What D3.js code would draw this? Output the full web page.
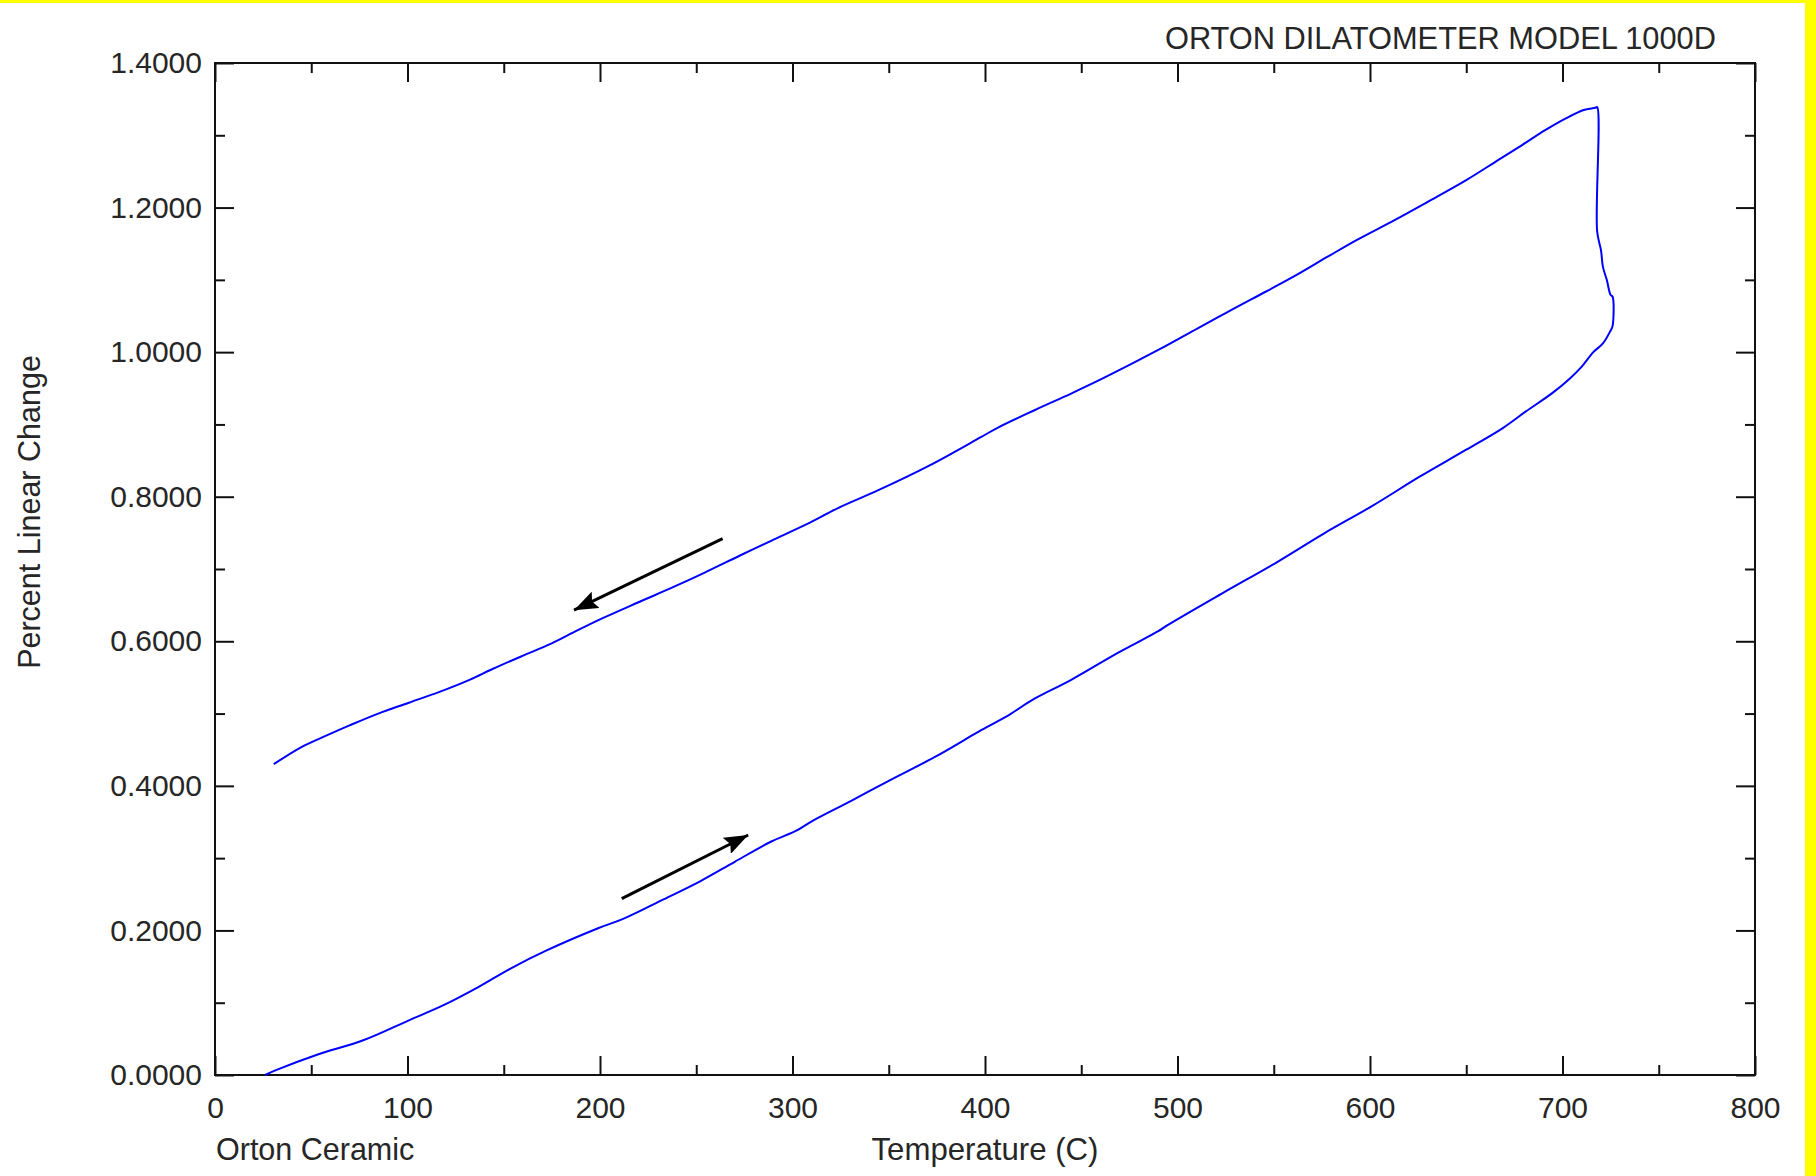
<!doctype html>
<html>
<head>
    <meta charset="utf8">
    <style>
        body { margin: 0; background: #fff; }
        svg { display: block; }
        text { font-family: "Liberation Sans", Arial, sans-serif; fill: #262626; }
        .axis path { display: none; }
        .axis line { stroke: #111; stroke-width: 2; }
        .axis text { font-size: 30px; fill: #262626; font-family: "Liberation Sans", Arial, sans-serif; }
    </style>
    <script src="https://d3js.org/d3.v7.min.js"></script>
</head>
<body>
<svg width="1816" height="1176"></svg>
<script>

    // heating run (incl. the turn at the top temperature)
    var tempUp = [26, 32, 53, 77, 101, 119, 137, 154, 172, 199, 212, 233, 252, 270, 289, 302, 310, 331, 350, 374,
                  398, 413, 424, 445, 469, 490, 494, 523, 552, 576, 601, 626, 650, 669, 681, 695, 704, 710, 716, 721,
                  725, 726, 726, 725, 723, 721, 720, 718, 718];
    var pctUp = [0, 0.007, 0.028, 0.048, 0.076, 0.097, 0.122, 0.148, 0.172, 0.203, 0.216, 0.243, 0.268, 0.295, 0.323, 0.338, 0.351, 0.380, 0.407, 0.440,
                 0.477, 0.499, 0.518, 0.547, 0.584, 0.614, 0.621, 0.666, 0.710, 0.749, 0.787, 0.828, 0.865, 0.895, 0.918, 0.944, 0.964, 0.980, 1.000, 1.012,
                 1.030, 1.036, 1.077, 1.079, 1.100, 1.118, 1.141, 1.167, 1.339];

    // cooling run
    var tempDown = [717, 711, 701.5, 691, 679, 665, 650, 630, 613, 593, 578, 560, 539, 525, 510.5, 490, 463, 445, 426, 407,
                    397.6, 371, 344.6, 323.4, 307.4, 288.9, 273, 254.4, 238.5, 220, 201.4, 188.2, 174.9, 159, 144.4, 132.5, 116.6, 100.7, 84.8, 70.2,
                    55.7, 45.1, 30.5];
    var pctDown = [1.338, 1.335, 1.323, 1.307, 1.2865, 1.263, 1.238, 1.208, 1.183, 1.155, 1.132, 1.104, 1.074, 1.054, 1.033, 1.003, 0.966, 0.943, 0.920, 0.896,
                   0.882, 0.843, 0.809, 0.784, 0.762, 0.739, 0.719, 0.695, 0.6755, 0.654, 0.632, 0.615, 0.597, 0.579, 0.562, 0.547, 0.530, 0.515, 0.500, 0.484,
                   0.467, 0.454, 0.430];

    var xTicks = [0, 100, 200, 300, 400, 500, 600, 700, 800];
    var xMinor = [50, 150, 250, 350, 450, 550, 650, 750];
    var yTicks = [0, 0.2, 0.4, 0.6, 0.8, 1.0, 1.2, 1.4];
    var yMinor = [0.1, 0.3, 0.5, 0.7, 0.9, 1.1, 1.3];

    // direction arrows [x1, y1, x2, y2] in data units
    var arrowCool = [263.7, 0.742, 186.5, 0.643];
    var arrowHeat = [211.3, 0.244, 277.0, 0.332];

    var svg = d3.select("svg"),
        pLeft = 215, pRight = 1755, pTop = 63, pBottom = 1075;

    var x = d3.scaleLinear().domain([0, 800]).range([pLeft, pRight]),
        y = d3.scaleLinear().domain([0, 1.4]).range([pBottom, pTop]);

    svg.append("rect").attr("width", 1816).attr("height", 1176).attr("fill", "#fff");
    // yellow page edge
    svg.append("rect").attr("x", 0).attr("y", 0).attr("width", 1816).attr("height", 3).attr("fill", "#ffff00");
    svg.append("rect").attr("x", 1805).attr("y", 0).attr("width", 11).attr("height", 1176).attr("fill", "#ffff00");

    // bottom axis with labels, ticks pointing in
    svg.append("g")
       .attr("class", "axis")
       .attr("transform", "translate(0," + pBottom + ")")
       .call(d3.axisBottom(x).tickValues(xTicks).tickSize(-19).tickSizeOuter(0).tickPadding(22)
               .tickFormat(d3.format("d")));
    svg.append("g")
       .attr("class", "axis")
       .attr("transform", "translate(0," + pBottom + ")")
       .call(d3.axisBottom(x).tickValues(xMinor).tickSize(-10).tickSizeOuter(0).tickFormat(""));

    svg.append("g")
       .attr("class", "axis")
       .attr("transform", "translate(0," + pTop + ")")
       .call(d3.axisTop(x).tickValues(xTicks).tickSize(-19).tickSizeOuter(0).tickFormat(""));
    svg.append("g")
       .attr("class", "axis")
       .attr("transform", "translate(0," + pTop + ")")
       .call(d3.axisTop(x).tickValues(xMinor).tickSize(-10).tickSizeOuter(0).tickFormat(""));

    svg.append("g")
       .attr("class", "axis")
       .attr("transform", "translate(" + pLeft + ",0)")
       .call(d3.axisLeft(y).tickValues(yTicks).tickSize(-19).tickSizeOuter(0).tickPadding(13)
               .tickFormat(d3.format(".4f")));
    svg.append("g")
       .attr("class", "axis")
       .attr("transform", "translate(" + pLeft + ",0)")
       .call(d3.axisLeft(y).tickValues(yMinor).tickSize(-10).tickSizeOuter(0).tickFormat(""));

    svg.append("g")
       .attr("class", "axis")
       .attr("transform", "translate(" + pRight + ",0)")
       .call(d3.axisRight(y).tickValues(yTicks).tickSize(-19).tickSizeOuter(0).tickFormat(""));
    svg.append("g")
       .attr("class", "axis")
       .attr("transform", "translate(" + pRight + ",0)")
       .call(d3.axisRight(y).tickValues(yMinor).tickSize(-10).tickSizeOuter(0).tickFormat(""));

    // frame
    svg.append("rect")
       .attr("x", pLeft).attr("y", pTop)
       .attr("width", pRight - pLeft).attr("height", pBottom - pTop)
       .attr("fill", "none").attr("stroke", "#111").attr("stroke-width", 2);

    // curve
    var pts = tempUp.map(function(t, i) { return [t, pctUp[i]]; })
        .concat(tempDown.map(function(t, i) { return [t, pctDown[i]]; }));

    var line = d3.line()
        .x(function(d) { return x(d[0]); })
        .y(function(d) { return y(d[1]); })
        .curve(d3.curveCatmullRom.alpha(0.5));

    svg.append("path")
       .datum(pts)
       .attr("d", line)
       .attr("fill", "none")
       .attr("stroke", "#0000ff")
       .attr("stroke-width", 2)
       .attr("stroke-linejoin", "round");

    // arrows
    svg.append("defs").append("marker")
       .attr("id", "head")
       .attr("viewBox", "0 0 24 18")
       .attr("refX", 24).attr("refY", 9)
       .attr("markerWidth", 24).attr("markerHeight", 18)
       .attr("markerUnits", "userSpaceOnUse")
       .attr("orient", "auto")
       .append("path")
       .attr("d", "M0,0 L24,9 L0,18 L4,9 Z")
       .attr("fill", "#000");

    [arrowCool, arrowHeat].forEach(function(a) {
        svg.append("line")
           .attr("x1", x(a[0])).attr("y1", y(a[1]))
           .attr("x2", x(a[2])).attr("y2", y(a[3]))
           .attr("stroke", "#000")
           .attr("stroke-width", 3)
           .attr("marker-end", "url(#head)");
    });

    // texts
    svg.append("text")
       .attr("x", 1716).attr("y", 49)
       .attr("text-anchor", "end")
       .attr("font-size", "30.8px")
       .text("ORTON DILATOMETER MODEL 1000D");

    svg.append("text")
       .attr("x", 216).attr("y", 1160)
       .attr("font-size", "30.5px")
       .text("Orton Ceramic");

    svg.append("text")
       .attr("x", (pLeft + pRight) / 2).attr("y", 1160)
       .attr("text-anchor", "middle")
       .attr("font-size", "31.2px")
       .text("Temperature (C)");

    svg.append("text")
       .attr("transform", "translate(40," + ((pTop + pBottom) / 2 - 57) + ") rotate(-90)")
       .attr("text-anchor", "middle")
       .attr("font-size", "30.5px")
       .text("Percent Linear Change");

</script>
</body>
</html>
